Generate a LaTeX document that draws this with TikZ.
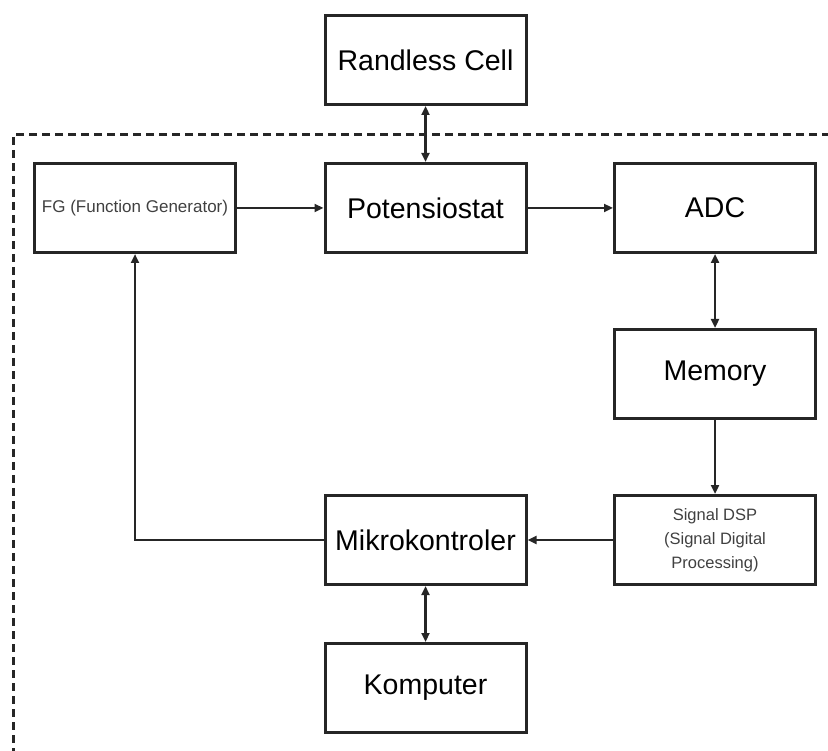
\documentclass[tikz,border=0pt]{standalone}
\usepackage{fontspec}
\setmainfont{Liberation Sans}
\usetikzlibrary{arrows.meta}

\begin{document}
\begin{tikzpicture}[x=1pt,y=-1pt,>={Triangle[length=9pt,width=8pt]}]

\def\bw{201pt}
\def\bh{89pt}
\def\colA{425.5}
\def\colB{715}
\def\colC{135}

% Colours
\colorlet{boxcolor}{black!85}
\colorlet{smalltext}{black!75}

% Styles
\tikzstyle{block}=[draw=boxcolor, line width=3pt, minimum width=\bw, minimum height=\bh, inner sep=0pt, font=\fontsize{28.5}{34}\selectfont]
\tikzstyle{small block}=[block, font=\fontsize{17}{24}\selectfont, text=smalltext, align=center]
\tikzstyle{link}=[line width=2.5pt, draw=boxcolor]
\tikzstyle{system border}=[line width=3pt, dash pattern=on 8pt off 5pt, draw=boxcolor]

\useasboundingbox (0,0) rectangle (828,751);

% System border
\draw[system border] (830,135) -- (13,135) -- (13,753);

% Blocks
\node[block] (cell) at (\colA,60) {Randless Cell};
\node[small block] (fg) at (\colC,208) {FG (Function Generator)};
\node[block] (pot) at (\colA,208) {Potensiostat};
\node[block] (adc) at (\colB,208) {ADC};
\node[block] (mem) at (\colB,374) {Memory};
\node[small block, font=\fontsize{16.5}{24}\selectfont] (dsp) at (\colB,540) {Signal DSP\\(Signal Digital\\Processing)};
\node[block] (mikro) at (\colA,540) {Mikrokontroler};
\node[block] (komp) at (\colA,688) {Komputer};

% Connections
\draw[link, <->] (cell) -- (pot);
\draw[link, ->] (fg) -- (pot);
\draw[link, ->] (pot) -- (adc);
\draw[link, <->] (adc) -- (mem);
\draw[link, ->] (mem) -- (dsp);
\draw[link, ->] (dsp) -- (mikro);
\draw[link, <->] (mikro) -- (komp);
\draw[link, ->] (mikro.west) -| (fg.south);

\end{tikzpicture}
\end{document}
